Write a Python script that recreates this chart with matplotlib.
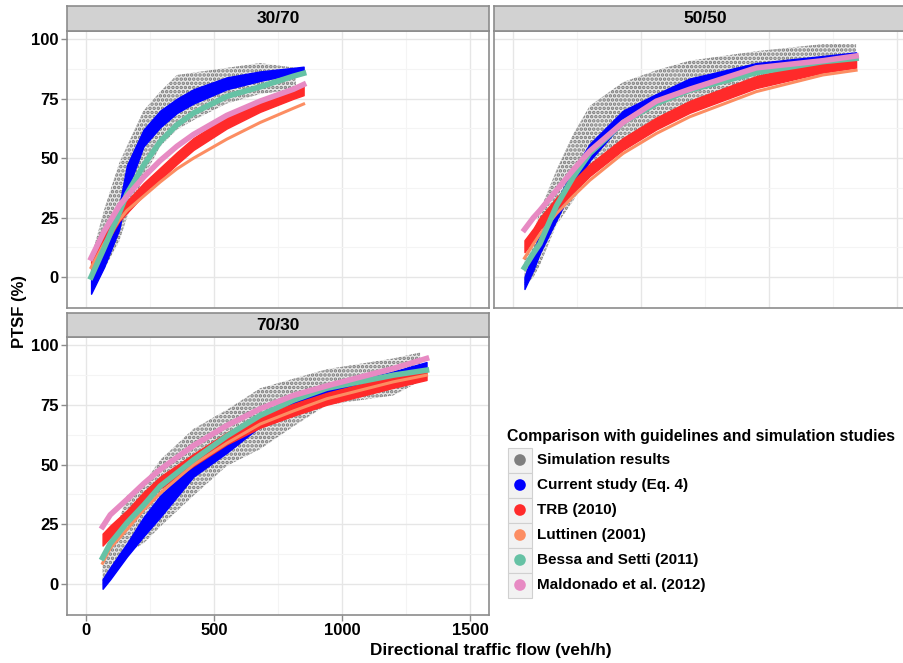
import numpy as np
import matplotlib
matplotlib.use("Agg")
import matplotlib.pyplot as plt
from matplotlib.patches import Rectangle

plt.rcParams['font.family'] = ['Liberation Sans', 'DejaVu Sans']
plt.rcParams['font.weight'] = 'bold'
plt.rcParams['hatch.linewidth'] = 1.7

W, H = 904, 663

panels = ['30/70', '50/50', '70/30']

# ---- 30/70 ----
f_3070 = [20, 70, 130, 160, 225, 290, 355, 420, 550, 680, 810, 850]
sim_f_3070 = [20, 70, 130, 160, 225, 290, 355, 420, 550, 680, 820]
sim_lo_3070 = [-3, 3, 15, 25, 42, 55, 62, 66, 73, 77, 79]
sim_hi_3070 = [8, 28, 48, 55, 70, 78, 85, 86, 88, 90, 88]
cur_lo_3070 = [-7, 4, 20, 36, 55, 63, 69, 73, 79, 82.5, 85.5, 86.5]
cur_hi_3070 = [-1, 11, 30, 47, 62, 70, 75, 79, 84, 86.5, 88, 88.5]
trb_3070 = [5, 15, 26, 29.5, 37, 43.5, 50, 56, 65, 72, 77.5, 79]
lut_3070 = [4, 14, 24, 28, 34, 40, 45.5, 50, 58, 65, 71, 72.8]
bes_3070 = [0, 12, 27, 35, 47, 57, 64, 69, 76, 80, 84.5, 85.7]
mal_3070 = [8, 19, 30, 34, 42, 49, 55, 60, 68, 74, 79, 81]

# ---- 50/50 ----
f_5050 = [45, 80, 105, 170, 235, 300, 430, 560, 690, 950, 1210, 1340]
sim_f_5050 = f_5050
sim_lo_5050 = [-4, 0, 5, 22, 32, 44, 57, 65, 72, 82, 91, 93]
sim_hi_5050 = [8, 18, 28, 45, 60, 72, 82, 87, 91, 95, 98, 98]
cur_lo_5050 = [-5, 3, 10, 24, 38, 49, 65, 73, 79, 87, 91, 93]
cur_hi_5050 = [0, 11, 18, 32, 45, 56, 70, 77, 83.5, 90, 93, 94.5]
trb_5050 = [13, 18, 22.5, 31, 38, 45, 56, 64.6, 71.6, 82, 88.5, 90.6]
lut_5050 = [8, 14, 18, 26.7, 34, 40.7, 52, 60.4, 67.4, 78, 85, 87]
bes_5050 = [4, 10, 14, 30, 42, 52, 65, 73, 78.6, 86, 90.6, 92]
mal_5050 = [20, 25, 28, 36.5, 45, 53, 65, 74, 79, 88, 91, 93]

# ---- 70/30 ----
f_7030 = [65, 95, 160, 225, 290, 420, 550, 680, 810, 940, 1200, 1330]
sim_f_7030 = [65, 95, 160, 225, 290, 420, 550, 680, 810, 940, 1200, 1305]
sim_lo_7030 = [-1, 3, 13, 17, 24, 37, 49.5, 56.5, 66, 75, 79, 85]
sim_hi_7030 = [8, 15, 37, 42, 52, 65, 73, 82, 86, 90, 94.5, 97]
cur_lo_7030 = [-2, 2, 11.5, 20, 28, 45, 55, 66, 72, 78, 86, 90]
cur_hi_7030 = [2, 7, 17, 28, 37, 51, 59, 70, 76, 82, 89, 93]
trb_7030 = [18.6, 22, 28.4, 36, 42.5, 52, 61, 68, 73, 77.6, 84.7, 88]
lut_7030 = [8.7, 15, 22.8, 31, 38, 50, 59, 67, 72.5, 77.6, 84.7, 87.5]
bes_7030 = [11, 17, 25.6, 33, 41, 52, 62, 70.6, 77, 82, 87.5, 89.6]
mal_7030 = [24, 29, 35.4, 42, 48, 58, 66.4, 73.4, 79, 83, 90.3, 94.5]

data = {
    '30/70': (f_3070, sim_f_3070, sim_lo_3070, sim_hi_3070, cur_lo_3070, cur_hi_3070,
              trb_3070, lut_3070, bes_3070, mal_3070),
    '50/50': (f_5050, sim_f_5050, sim_lo_5050, sim_hi_5050, cur_lo_5050, cur_hi_5050,
              trb_5050, lut_5050, bes_5050, mal_5050),
    '70/30': (f_7030, sim_f_7030, sim_lo_7030, sim_hi_7030, cur_lo_7030, cur_hi_7030,
              trb_7030, lut_7030, bes_7030, mal_7030),
}

series = ['Simulation results', 'Current study (Eq. 4)', 'TRB (2010)',
          'Luttinen (2001)', 'Bessa and Setti (2011)', 'Maldonado et al. (2012)']
colors = ['#7f7f7f', '#0000ff', '#ff2a2a', '#fc8d62', '#66c2a5', '#e78ac3']


def pos(l, t, r, b):
    return [l / W, 1 - b / H, (r - l) / W, (b - t) / H]


boxes = {
    '30/70': ((67, 31, 489, 308), (67, 6, 489, 31)),
    '50/50': ((494, 31, 916, 308), (494, 6, 916, 31)),
    '70/30': ((67, 337, 489, 615), (67, 313, 489, 337)),
}

fig = plt.figure(figsize=(W / 100, H / 100), dpi=100)

for name in panels:
    pbox, sbox = boxes[name]
    ax = fig.add_axes(pos(*pbox))
    f, sf, slo, shi, clo, chi, trb, lut, bes, mal = data[name]
    f = np.array(f)

    # simulation cloud: light fill + dotted texture
    ax.fill_between(sf, slo, shi, facecolor='#c4c4c4', alpha=0.4, lw=0, zorder=2)
    ax.fill_between(sf, slo, shi, facecolor='none', edgecolor='#7a7a7a', hatch='....',
                    lw=0, zorder=2)
    ax.fill_between(f, clo, chi, color=colors[1], lw=1, zorder=3)
    ax.fill_between(f, np.array(trb) - 2.5, np.array(trb) + 2.5, color=colors[2], lw=1, zorder=4)
    ax.plot(f, lut, color=colors[3], lw=2.2, zorder=5)
    ax.plot(f, bes, color=colors[4], lw=4, zorder=6)
    ax.plot(f, mal, color=colors[5], lw=4, zorder=7)

    ax.set_xlim(-74, 1574)
    ax.set_ylim(-13, 103.5)
    ax.set_xticks([0, 500, 1000, 1500])
    ax.set_xticks([250, 750, 1250], minor=True)
    ax.set_yticks([0, 25, 50, 75, 100])
    ax.set_yticks([12.5, 37.5, 62.5, 87.5], minor=True)
    ax.grid(True, which='major', color='#e6e6e6', lw=1.0, zorder=0)
    ax.grid(True, which='minor', color='#f4f4f4', lw=0.8, zorder=0)
    ax.set_axisbelow(True)
    for s in ax.spines.values():
        s.set_color('#8c8c8c')
        s.set_linewidth(1.2)
    ax.tick_params(which='minor', length=0)
    ax.tick_params(which='major', length=4, width=1, color='#8c8c8c',
                   labelsize=12, pad=2)
    if name == '50/50':
        ax.tick_params(labelleft=False, left=False)
    if name != '70/30':
        ax.tick_params(labelbottom=False, bottom=False)

    sax = fig.add_axes(pos(*sbox))
    sax.set_facecolor('#d2d2d2')
    sax.set_xticks([])
    sax.set_yticks([])
    for s in sax.spines.values():
        s.set_color('#8c8c8c')
        s.set_linewidth(1.2)
    sax.text(0.5, 0.5, name, transform=sax.transAxes, ha='center', va='center',
             fontsize=12.5, fontweight='bold')

fig.text(20 / W, 1 - 312 / H, 'PTSF (%)', rotation=90, ha='center', va='center',
         fontsize=12, fontweight='bold')
fig.text(491 / W, 1 - 651 / H, 'Directional traffic flow (veh/h)', ha='center',
         va='center', fontsize=12.3, fontweight='bold')

# legend drawn in pixel space
lax = fig.add_axes([0, 0, 1, 1], zorder=-1)
lax.set_xlim(0, W)
lax.set_ylim(H, 0)
lax.axis('off')
lax.text(507, 437, 'Comparison with guidelines and simulation studies', ha='left',
         va='center', fontsize=11.4, fontweight='bold')
for i, (lab, c) in enumerate(zip(series, colors)):
    yc = 460 + 25 * i
    lax.add_patch(Rectangle((508, yc - 12.5), 24, 25, facecolor='#f2f2f2',
                            edgecolor='#d0d0d0', lw=0.8))
    lax.scatter([520], [yc], s=70, color=c, edgecolor='none')
    lax.text(537, yc, lab, ha='left', va='center', fontsize=11, fontweight='bold')

fig.savefig('out.png', dpi=100)
